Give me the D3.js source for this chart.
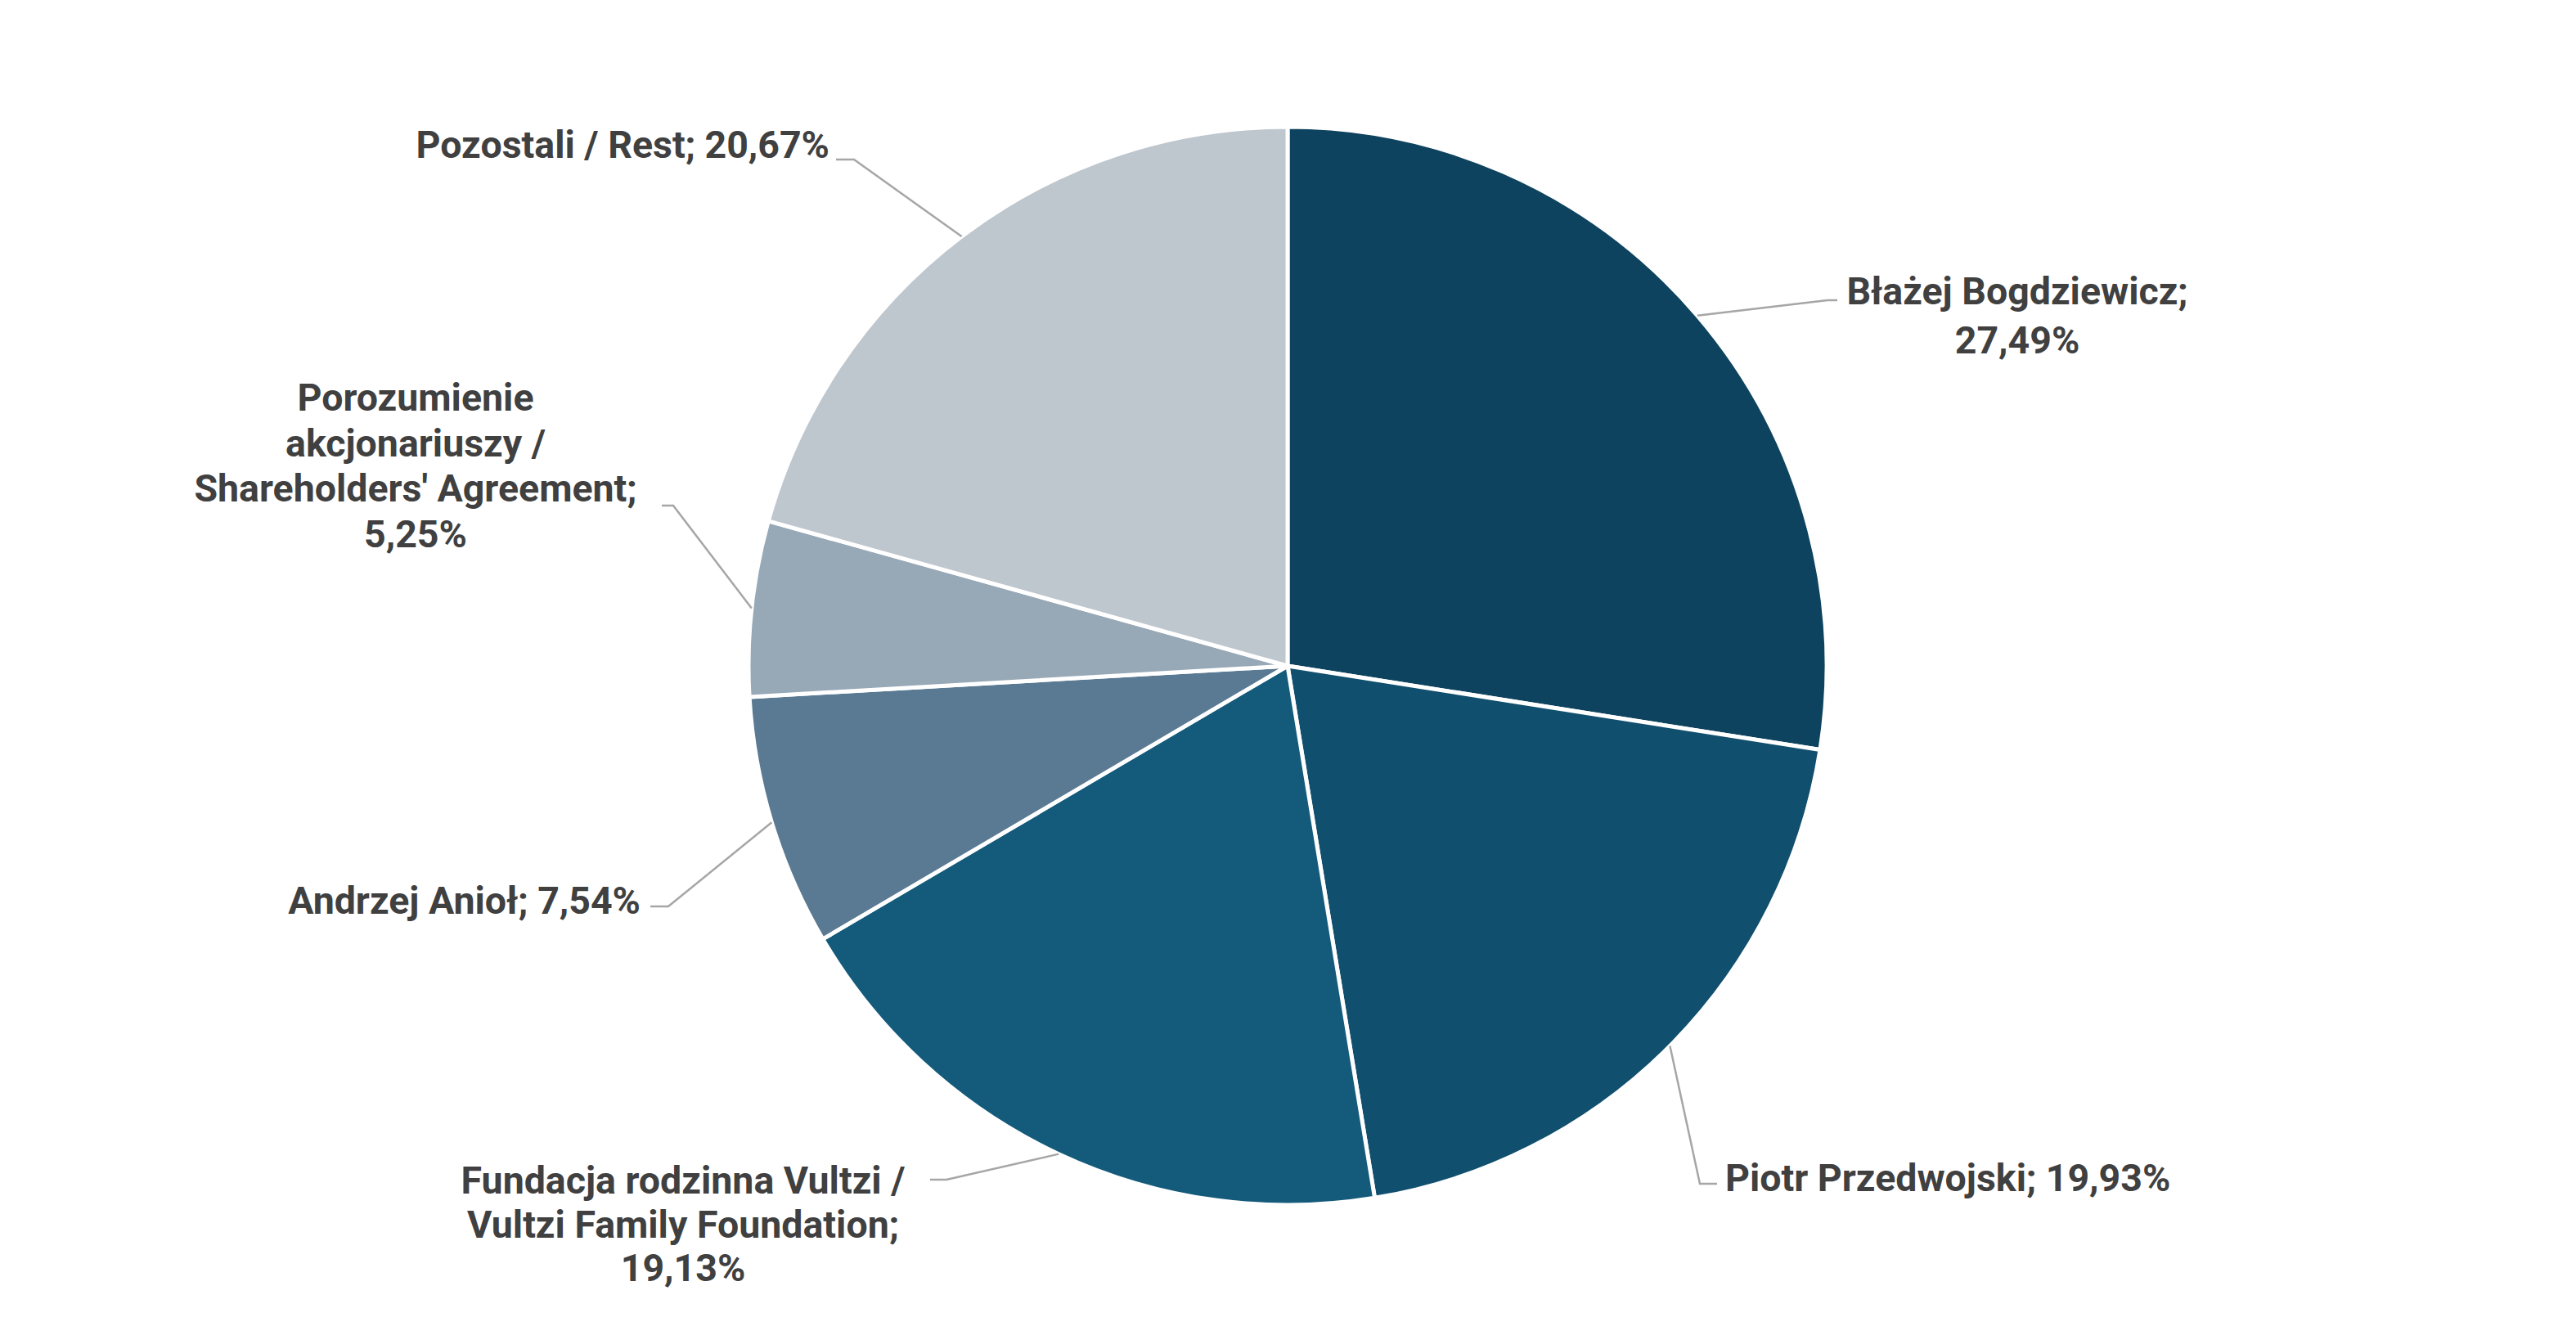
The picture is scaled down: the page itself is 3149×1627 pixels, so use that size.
<!DOCTYPE html>
<html>
<head>
<meta charset="utf-8">
<script src="https://cdn.jsdelivr.net/npm/d3@7"></script>
<style>
  html, body { margin: 0; padding: 0; background: #ffffff; }
  svg { display: block; }
  text { font-family: Roboto, "Open Sans", sans-serif; font-weight: 700; fill: #404040; }
</style>
</head>
<body>
<svg id="chart" width="3149" height="1627"></svg>
<script>
// ---- data ----
const categories = [
  "Błażej Bogdziewicz",
  "Piotr Przedwojski",
  "Fundacja rodzinna Vultzi / Vultzi Family Foundation",
  "Andrzej Anioł",
  "Porozumienie akcjonariuszy / Shareholders' Agreement",
  "Pozostali / Rest"
];
const values = [27.49, 19.93, 19.13, 7.54, 5.25, 20.67];
const valueLabels = ["27,49%", "19,93%", "19,13%", "7,54%", "5,25%", "20,67%"];
const colors = ["#0d435e", "#114f6e", "#145a7b", "#5a7a93", "#97a8b7", "#bec6ce"];
// label text lines (as wrapped in the original)
const labelLines = [
  ["Błażej Bogdziewicz;", "27,49%"],
  ["Piotr Przedwojski; 19,93%"],
  ["Fundacja rodzinna Vultzi /", "Vultzi Family Foundation;", "19,13%"],
  ["Andrzej Anioł; 7,54%"],
  ["Porozumienie", "akcjonariuszy /", "Shareholders' Agreement;", "5,25%"],
  ["Pozostali / Rest; 20,67%"]
];

// ---- layout ----
const W = 3149, H = 1627;
const cx = 1574, cy = 814, R = 659;
// label placement: text anchor point, anchor, leader elbow and leader end
const labelLayout = [
  { x: 2466, y: 372, anchor: "middle", lh: 60, elbow: [2234, 367], end: [2246, 367] },
  { x: 2109, y: 1456, anchor: "start", lh: 56, elbow: [2078, 1447], end: [2099, 1447] },
  { x: 835, y: 1459, anchor: "middle", lh: 53.5, elbow: [1157, 1442], end: [1137, 1442] },
  { x: 783, y: 1117, anchor: "end", lh: 56, elbow: [817, 1108], end: [795, 1108] },
  { x: 508, y: 502, anchor: "middle", lh: 55.6, elbow: [823, 618], end: [809, 618] },
  { x: 1014, y: 193, anchor: "end", lh: 56, elbow: [1044, 195], end: [1022, 195] }
];

const svg = d3.select("#chart");
const g = svg.append("g").attr("transform", `translate(${cx},${cy})`);

const pie = d3.pie().sort(null).value(d => d).startAngle(0).endAngle(2 * Math.PI);
const arcs = pie(values);
const arc = d3.arc().innerRadius(0).outerRadius(R);

g.selectAll("path.slice")
  .data(arcs)
  .join("path")
  .attr("class", "slice")
  .attr("d", arc)
  .attr("fill", (d, i) => colors[i])
  .attr("stroke", "#ffffff")
  .attr("stroke-width", 5)
  .attr("stroke-linejoin", "round");

// leader lines
const line = d3.line();
svg.selectAll("path.leader")
  .data(arcs)
  .join("path")
  .attr("class", "leader")
  .attr("d", (d, i) => {
    const a = (d.startAngle + d.endAngle) / 2;
    const p0 = [cx + R * Math.sin(a), cy - R * Math.cos(a)];
    const L = labelLayout[i];
    return line([p0, L.elbow, L.end]);
  })
  .attr("fill", "none")
  .attr("stroke", "#a6a6a6")
  .attr("stroke-width", 2.5);

// labels
svg.selectAll("text.lbl")
  .data(arcs)
  .join("text")
  .attr("class", "lbl")
  .attr("font-size", 46.5)
  .attr("text-anchor", (d, i) => labelLayout[i].anchor)
  .each(function (d, i) {
    const L = labelLayout[i];
    d3.select(this).selectAll("tspan")
      .data(labelLines[i])
      .join("tspan")
      .attr("x", L.x)
      .attr("y", (t, j) => L.y + j * L.lh)
      .text(t => t);
  });
</script>
</body>
</html>
